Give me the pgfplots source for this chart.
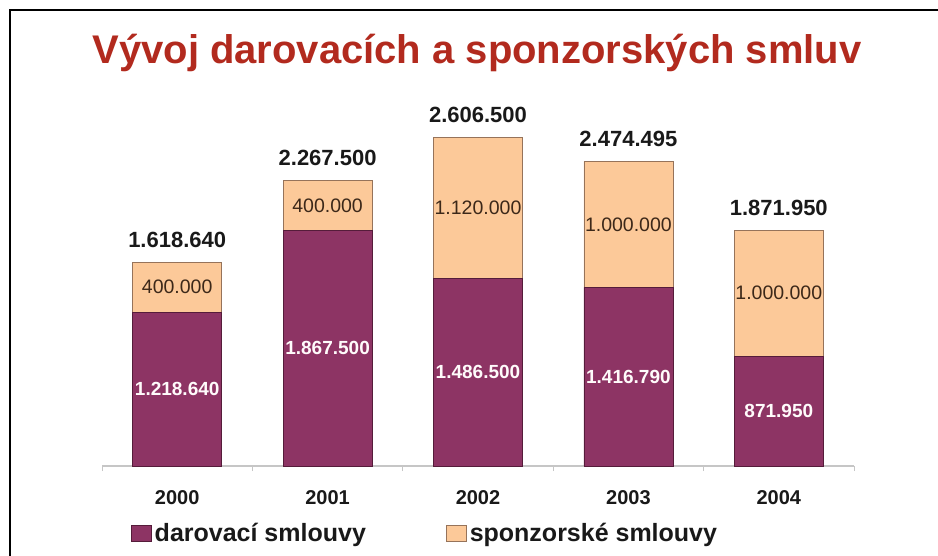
\documentclass[border=0pt]{standalone}
\usepackage{pgfplots}
\pgfplotsset{compat=1.18}
\usepackage{fontspec}
\setmainfont{Liberation Sans}

\definecolor{purp}{RGB}{141,52,100}
\definecolor{purpdark}{RGB}{85,28,58}
\definecolor{peach}{RGB}{252,201,153}
\definecolor{peachdark}{RGB}{150,115,90}
\definecolor{titlered}{RGB}{178,42,30}
\definecolor{lbrown}{RGB}{60,40,25}

\begin{document}
\begin{tikzpicture}
\path[use as bounding box] (0pt,0pt) rectangle (938pt,-555pt);
% slide frame
\draw[line width=2.5pt] (10pt,-556pt) -- (10pt,-10pt) -- (940pt,-10pt);
\node[anchor=base, font=\bfseries\fontsize{40}{48}\selectfont, text=titlered]
  at (477pt,-63pt) {Vývoj darovacích a sponzorských smluv};

% bars
\begin{axis}[
  at={(102pt,-466pt)}, anchor=south west,
  scale only axis, width=752pt, height=365.4pt,
  xmin=-0.5, xmax=4.5, ymin=0, ymax=2.9e6,
  ybar stacked, bar width=89pt,
  axis y line=none, axis x line*=bottom,
  x axis line style={draw=gray!45, line width=1.2pt},
  xtick={0,1,2,3,4},
  xticklabels={2000,2001,2002,2003,2004},
  major tick length=0pt,
  minor xtick={-0.5,0.5,1.5,2.5,3.5,4.5},
  minor tick length=5pt, tick align=outside,
  every minor tick/.style={draw=gray!45, line width=1pt},
  xticklabel style={font=\bfseries\fontsize{20}{24}\selectfont, text=black!90,
    inner sep=0pt, anchor=north, yshift=-24pt},
  legend columns=2,
  legend style={draw=none, fill=none, inner sep=0pt, outer sep=0pt,
    at={(0.0385,-0.1847)}, anchor=west,
    font=\bfseries\fontsize{25}{30}\selectfont,
    nodes={inner sep=3pt, text=black!90},
    /tikz/every even column/.append style={column sep=77pt}},
  legend image code/.code={\draw[#1] (0pt,-8pt) rectangle (20pt,8pt);},
  clip=false,
]
\addplot[fill=purp, draw=purpdark, line width=0.8pt]
  coordinates {(0,1218640) (1,1867500) (2,1486500) (3,1416790) (4,871950)};
\addlegendentry{darovací smlouvy}
\addplot[fill=peach, draw=peachdark, line width=0.8pt]
  coordinates {(0,400000) (1,400000) (2,1120000) (3,1000000) (4,1000000)};
\addlegendentry{sponzorské smlouvy}
\end{axis}

% value labels
\begin{axis}[
  at={(102pt,-466pt)}, anchor=south west,
  scale only axis, width=752pt, height=365.4pt,
  xmin=-0.5, xmax=4.5, ymin=0, ymax=2.9e6,
  hide axis, clip=false,
]
% darovaci (centre of segment)
\addplot[only marks, mark=*, mark size=0pt, mark options={draw=none, fill=none},
  nodes near coords, point meta=explicit symbolic,
  every node near coord/.append style={anchor=center, inner sep=0pt,
    font=\bfseries\fontsize{19}{23}\selectfont, text=white!94!pink}]
  coordinates {(0,609320)[1.218.640] (1,933750)[1.867.500] (2,743250)[1.486.500]
               (3,708395)[1.416.790] (4,435975)[871.950]};
% sponzorske (centre of segment)
\addplot[only marks, mark=*, mark size=0pt, mark options={draw=none, fill=none},
  nodes near coords, point meta=explicit symbolic,
  every node near coord/.append style={anchor=center, inner sep=0pt,
    font=\fontsize{19.5}{23}\selectfont, text=lbrown}]
  coordinates {(0,1418640)[400.000] (1,2067500)[400.000] (2,2046500)[1.120.000]
               (3,1916790)[1.000.000] (4,1371950)[1.000.000]};
% totals
\addplot[only marks, mark=*, mark size=0pt, mark options={draw=none, fill=none},
  nodes near coords, point meta=explicit symbolic,
  every node near coord/.append style={anchor=base, inner sep=0pt, yshift=15pt,
    font=\bfseries\fontsize{22}{26}\selectfont, text=black!90}]
  coordinates {(0,1618640)[1.618.640] (1,2267500)[2.267.500] (2,2606500)[2.606.500]
               (3,2416790)[2.474.495] (4,1871950)[1.871.950]};
\end{axis}
\end{tikzpicture}
\end{document}
